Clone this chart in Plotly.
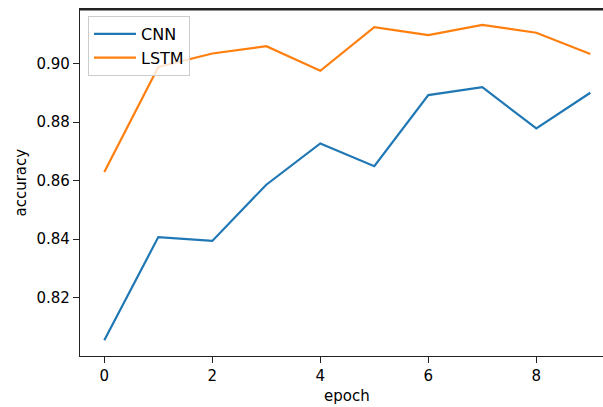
import plotly.graph_objects as go

epochs = [0, 1, 2, 3, 4, 5, 6, 7, 8, 9]
cnn_acc = [0.8055, 0.8407, 0.8394, 0.8586, 0.8727, 0.8649, 0.8892, 0.8919, 0.8778, 0.8900]
lstm_acc = [0.8629, 0.8988, 0.9034, 0.9059, 0.8975, 0.9124, 0.9097, 0.9132, 0.9105, 0.9032]
x_ticks = [0, 2, 4, 6, 8]
y_ticks = [0.82, 0.84, 0.86, 0.88, 0.90]

W, H = 603, 407
L, R, T, B = 80, 0, 9, 51

fig = go.Figure()
fig.add_trace(go.Scatter(x=epochs, y=cnn_acc, mode="lines", name="CNN",
                         line=dict(color="#1f77b4", width=2.2)))
fig.add_trace(go.Scatter(x=epochs, y=lstm_acc, mode="lines", name="LSTM",
                         line=dict(color="#ff7f0e", width=2.2)))

font = dict(family="DejaVu Sans", size=15, color="black")

fig.update_layout(
    width=W, height=H,
    margin=dict(l=L, r=R, t=T, b=B, pad=0),
    paper_bgcolor="white", plot_bgcolor="white",
    font=font,
    showlegend=True,
    legend=dict(x=(88 - L) / (W - L - R), y=1 - (16 - T) / (H - T - B),
                xanchor="left", yanchor="top",
                bgcolor="rgba(255,255,255,0.8)", bordercolor="#cccccc", borderwidth=1,
                font=dict(family="DejaVu Sans", size=16, color="black"),
                tracegroupgap=0, itemwidth=42),
    xaxis=dict(range=[-0.45, 9.235], tickvals=x_ticks, ticktext=[str(v) for v in x_ticks],
               showgrid=False, zeroline=False, showline=True, linecolor="#222222", linewidth=1.2,
               mirror=True, ticks="outside", ticklen=6, tickcolor="#222222", tickwidth=1.2,
               tickfont=font),
    yaxis=dict(range=[0.8001, 0.9186], tickvals=y_ticks, ticktext=["%.2f" % v for v in y_ticks],
               showgrid=False, zeroline=False, showline=True, linecolor="#222222", linewidth=1.2,
               mirror=False, ticks="outside", ticklen=6, tickcolor="#222222", tickwidth=1.2,
               tickfont=font),
)

# top spine (the right spine lies outside the cropped image)
fig.add_shape(type="line", xref="paper", yref="paper", x0=0, x1=1, y0=0.998, y1=0.998,
              line=dict(color="#222222", width=1.4), layer="above")

# axis labels (centered on full axes, which extends past the right crop)
fig.add_annotation(text="epoch", xref="paper", yref="paper",
                   x=(347 - L) / (W - L - R), y=-(396 - (H - B)) / (H - T - B),
                   xanchor="center", yanchor="middle", showarrow=False, font=font)
fig.add_annotation(text="accuracy", xref="paper", yref="paper",
                   x=-(L - 20) / (W - L - R), y=1 - (182.5 - T) / (H - T - B),
                   xanchor="center", yanchor="middle", textangle=-90, showarrow=False, font=font)

fig.write_html("out.html")
